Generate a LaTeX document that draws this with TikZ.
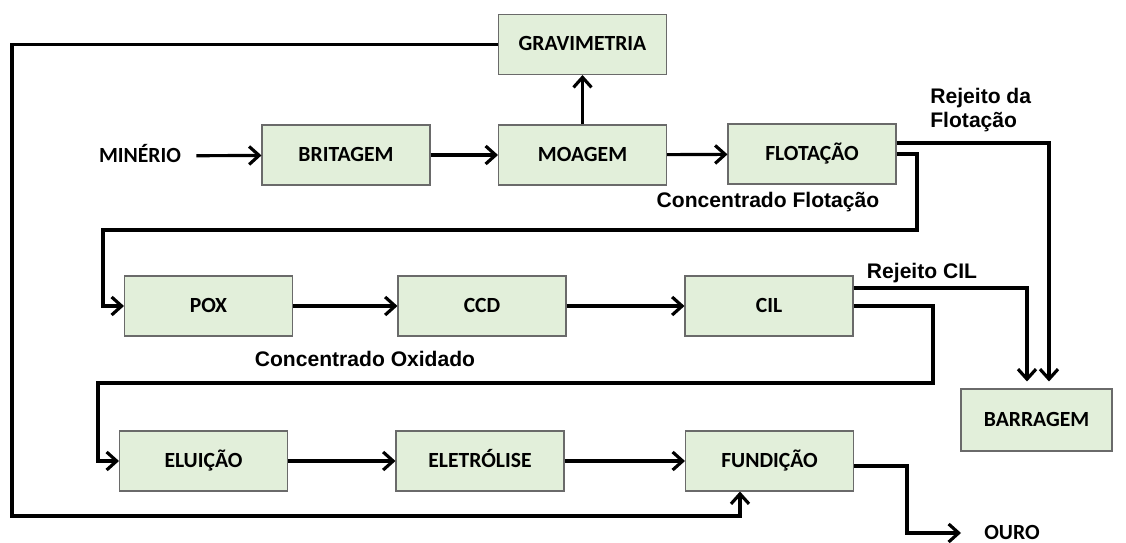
\documentclass[tikz,border=0pt]{standalone}
\usepackage{fontspec}
\setmainfont{Carlito}
\newfontfamily\arialfont{Liberation Sans}
\usetikzlibrary{arrows.meta,calc}
\definecolor{boxgreen}{HTML}{E2EFDA}
\definecolor{boxline}{HTML}{6A6A6A}
\begin{document}
\begin{tikzpicture}[x=0.02cm, y=-0.02cm,
    word/.style={font=\fontsize{12.3}{14}\selectfont\bfseries, text height=1.45ex, text depth=0pt, inner sep=0pt},
    proc/.style={word, draw=boxline, line width=0.6pt, fill=boxgreen, minimum width=3.36cm, minimum height=1.2cm},
    flow/.style={line width=1.8pt, -{Straight Barb[length=0.2cm, width=0.36cm, line width=1.8pt]}},
    lbl/.style={font=\arialfont\fontsize{12}{14}\selectfont\bfseries, inner sep=0pt}]
    \useasboundingbox (0,0) rectangle (1126,542);

    \node[proc] (grav) at (582.5,44.5) {GRAVIMETRIA};
    \node[proc] (brit) at (346,155) {BRITAGEM};
    \node[proc] (moag) at (582.5,155) {MOAGEM};
    \node[proc] (flot) at (812,154) {FLOTAÇÃO};
    \node[proc] (pox) at (208.5,306) {POX};
    \node[proc] (ccd) at (482,306) {CCD};
    \node[proc] (cil) at (769,306) {CIL};
    \node[proc] (elui) at (203.5,461) {ELUIÇÃO};
    \node[proc] (elet) at (480,461) {ELETRÓLISE};
    \node[proc] (fund) at (769.5,461) {FUNDIÇÃO};
    \node[proc, minimum width=3.02cm, minimum height=1.24cm] (barr) at (1036.5,420) {BARRAGEM};

    \node[word] (minerio) at (140,156) {MINÉRIO};
    \node[word, anchor=west] (ouro) at (984,533) {OURO};

    \node[lbl, anchor=west, align=left] (rejflot) at (930,110) {Rejeito da\\Flotação};
    \node[lbl] (concflot) at (768,202) {Concentrado Flotação};
    \node[lbl] (concox) at (365,359) {Concentrado Oxidado};
    \node[lbl] (rejcil) at (922,273) {Rejeito CIL};

    \coordinate (fbk) at (12,516);
    \coordinate (c1) at (917,230);
    \coordinate (c2) at (103,230);
    \coordinate (c3) at (933,383);
    \coordinate (c4) at (98,383);
    \coordinate (c5) at (907,533);

    \draw[flow, shorten <=0.3cm] (minerio) -- (brit);
    \draw[flow] (brit) -- (moag);
    \draw[flow] (moag) -- (flot);
    \draw[flow] (moag) -- (grav);
    \draw[flow] (grav.west) -| (fbk) -| ($(fund.south)+(-29.5,0)$);

    \draw[flow] (flot.east) -| (c1) -- (c2) |- (pox.west);
    \draw[flow, shorten >=0.14cm] ($(flot.east)+(0,-11)$) -| ($(barr.north)+(12.5,0)$);

    \draw[flow] (pox) -- (ccd);
    \draw[flow] (ccd) -- (cil);
    \draw[flow, shorten >=0.14cm] ($(cil.east)+(0,-18)$) -| ($(barr.north)+(-9.5,0)$);
    \draw[flow] (cil.east) -| (c3) -- (c4) |- (elui.west);

    \draw[flow] (elui) -- (elet);
    \draw[flow] (elet) -- (fund);
    \draw[flow, shorten >=0.46cm] ($(fund.east)+(0,5)$) -| (c5) -- (ouro.west);
\end{tikzpicture}
\end{document}
